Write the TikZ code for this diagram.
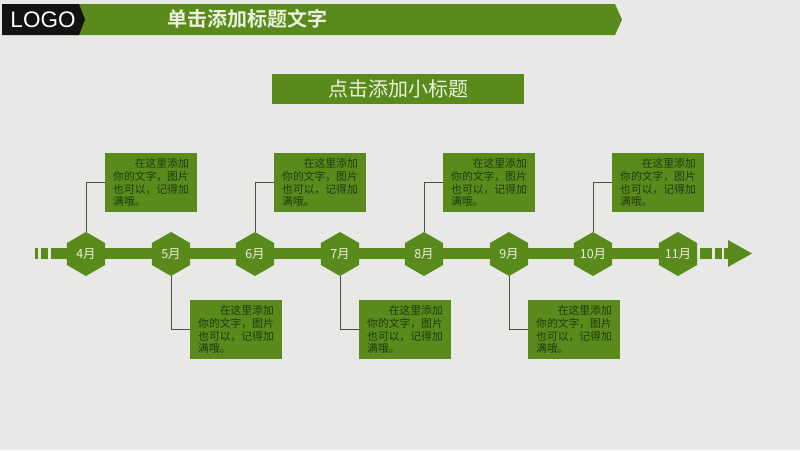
\documentclass[tikz,border=0pt]{standalone}
\usepackage{fontspec}
\usetikzlibrary{shapes.geometric}
\setmainfont{Liberation Sans}
\newfontfamily\cjk{Noto Sans CJK SC}
\newfontfamily\cjkb{Noto Sans CJK SC Bold}
\definecolor{leaf}{HTML}{5A8A1B}
\definecolor{paper}{HTML}{E8E9E6}
\definecolor{ink}{HTML}{1F3A10}
\definecolor{wire}{HTML}{4A4F48}
\definecolor{pale}{HTML}{EAF1DC}
\tikzset{
  hexnode/.style={regular polygon,regular polygon sides=6,regular polygon rotate=30,minimum size=44pt,inner sep=0pt,fill=leaf,text=pale,font=\cjk\fontsize{12.5}{14}\selectfont},
  notebox/.style={rectangle,fill=leaf,minimum width=92pt,minimum height=59pt,inner sep=0pt,anchor=north west,text=ink,align=left,text width=76pt,font=\cjk\fontsize{10.8}{12.7}\selectfont},
  wirepath/.style={draw=wire,line width=1pt},
  barpiece/.style={fill=leaf,draw=none}
}
\newcommand{\notetext}{\hspace*{2em}在这里添加\\你的文字，图片\\也可以，记得加\\满哦。}
\begin{document}
\begin{tikzpicture}[x=1pt,y=-1pt]
\useasboundingbox (0,0) rectangle (800,450);
\fill[paper] (0,0) rectangle (800,450);
% banner
\fill[leaf] (70,4) -- (615,4) -- (622,19.5) -- (615,35) -- (70,35) -- cycle;
\fill[black!93] (2,4) -- (79,4) -- (85,19.5) -- (79,35) -- (2,35) -- cycle;
\node[text=white,font=\fontsize{22.5}{24}\selectfont,anchor=center] (logo) at (43,20) {LOGO};
\node[text=pale,font=\cjkb\fontsize{20}{22}\selectfont,anchor=center] (title) at (247,18.5) {单击添加标题文字};
% subtitle
\node[fill=leaf,minimum width=252pt,minimum height=30pt,inner sep=0pt,text=pale,font=\cjk\fontsize{20}{22}\selectfont] (sub) at (398,89) {点击添加小标题};
% bar
\fill[barpiece] (35,248) rectangle (38,259);
\fill[barpiece] (41,248) rectangle (48,259);
\fill[barpiece] (51,248) rectangle (64,259);
\fill[barpiece] (64,248) rectangle (678,259);
\fill[barpiece] (700,248) rectangle (712,259);
\fill[barpiece] (715,248) rectangle (722,259);
\fill[barpiece] (724,248) rectangle (728,259);
\fill[barpiece] (728,240) -- (752,253.5) -- (728,267) -- cycle;
% hexagons
\node[hexnode] (h4) at (86,254) {4月};
\node[hexnode] (h5) at (171,254) {5月};
\node[hexnode] (h6) at (255,254) {6月};
\node[hexnode] (h7) at (340,254) {7月};
\node[hexnode] (h8) at (424,254) {8月};
\node[hexnode] (h9) at (509,254) {9月};
\node[hexnode] (h10) at (593,254) {10月};
\node[hexnode] (h11) at (678,254) {11月};
% notes above
\node[notebox] (n4) at (105,153) {\notetext};
\node[notebox] (n6) at (274,153) {\notetext};
\node[notebox] (n8) at (443,153) {\notetext};
\node[notebox] (n10) at (612,153) {\notetext};
% notes below
\node[notebox] (n5) at (190,300) {\notetext};
\node[notebox] (n7) at (359,300) {\notetext};
\node[notebox] (n9) at (528,300) {\notetext};
% connectors
\draw[wirepath] (h4.north) |- (n4.west);
\draw[wirepath] (h6.north) |- (n6.west);
\draw[wirepath] (h8.north) |- (n8.west);
\draw[wirepath] (h10.north) |- (n10.west);
\draw[wirepath] (h5.south) |- (n5.west);
\draw[wirepath] (h7.south) |- (n7.west);
\draw[wirepath] (h9.south) |- (n9.west);
\end{tikzpicture}
\end{document}
